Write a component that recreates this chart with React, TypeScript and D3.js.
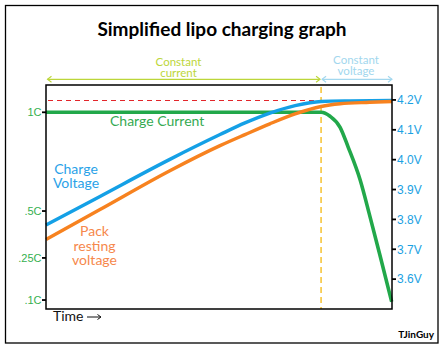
import React from "react";
import * as d3 from "d3";

// ---- data ----
const voltTime = [0, 15.6, 35.8, 50.3, 57.5, 64.7, 72, 79.5, 87.9, 100];
const chargeVoltage = [3.781, 3.877, 4.001, 4.084, 4.123, 4.156, 4.181, 4.195, 4.197, 4.198];
const restTime = [0, 15.6, 35.8, 50.3, 57.5, 64.7, 72, 79.5, 85, 93.6, 100];
const restingVoltage = [3.733, 3.833, 3.963, 4.047, 4.084, 4.12, 4.153, 4.178, 4.187, 4.192, 4.195];
const currentTime = [0, 79.5, 82.1, 85, 87.3, 90.8, 93.6, 96.5, 99.9];
const chargeCurrent = [1, 1, 0.98, 0.924, 0.825, 0.657, 0.473, 0.266, 0.094];
const cvStart = 79.5; // time where constant voltage phase starts
const maxVoltage = 4.2;
const voltTicks = [3.6, 3.7, 3.8, 3.9, 4.0, 4.1, 4.2];
const voltTickLabels = ["3.6V", "3.7V", "3.8V", "3.9V", "4.0V", "4.1V", "4.2V"];
const currentTicks = [0.1, 0.25, 0.5, 1];
const currentTickLabels = [".1C", ".25C", ".5C", "1C"];
const currentTickVolt = [3.53, 3.671, 3.828, 4.1586]; // voltage-equivalent height of each current tick
const timeDomain = [0, 100];
const voltDomain = [3.5, 4.25];

const W = 444;
const H = 349;
const plot = { left: 46, top: 85, right: 392, bottom: 309 };

const C_GREEN = "#22a84a";
const C_BLUE = "#14a0e6";
const C_ORANGE = "#f7821f";
const FONT = "Lato, 'Open Sans', sans-serif";
const AX_FONT = "'Liberation Sans', Arial, sans-serif";

export default function App() {
  const x = d3.scaleLinear().domain(timeDomain).range([plot.left, plot.right]);
  const yV = d3.scaleLinear().domain(voltDomain).range([plot.bottom, plot.top]);
  const yC = d3.scaleLinear().domain(currentTicks).range(currentTickVolt.map((v) => yV(v)));

  const lineV = d3
    .line<[number, number]>()
    .x((d) => x(d[0]))
    .y((d) => yV(d[1]))
    .curve(d3.curveMonotoneX);
  const lineC = d3
    .line<[number, number]>()
    .x((d) => x(d[0]))
    .y((d) => yC(d[1]))
    .curve(d3.curveMonotoneX);

  const blue = lineV(voltTime.map((t, i) => [t, chargeVoltage[i]] as [number, number]));
  const orange = lineV(restTime.map((t, i) => [t, restingVoltage[i]] as [number, number]));
  const green = lineC(currentTime.map((t, i) => [t, chargeCurrent[i]] as [number, number]));

  const xcv = x(cvStart);
  const arrowY = 79.3;
  const ccColor = "#bcd63a";
  const cvColor = "#a2d7ee";
  const chevron = (px: number, dir: number) =>
    `M${px + dir * 4},${arrowY - 3} L${px},${arrowY} L${px + dir * 4},${arrowY + 3}`;
  const y42 = Math.round(yV(maxVoltage)) + 0.5;

  return (
    <svg
      width={W}
      height={H}
      style={{ position: "absolute", left: 0, top: 0, background: "#fff" }}
    >
      <rect x={0} y={0} width={W} height={H} fill="#fff" />
      <rect x={5.5} y={5.5} width={432.5} height={337.5} fill="none" stroke="#000" strokeWidth={1.3} />
      <text
        x={222}
        y={36}
        textAnchor="middle"
        fontFamily={FONT}
        fontWeight={700}
        fontSize={19}
        fill="#000"
      >
        Simplified lipo charging graph
      </text>

      {/* phase annotations */}
      <g fontFamily={FONT} fontSize={11.5} textAnchor="middle">
        <text x={178.5} y={65.5} fill={ccColor}>Constant</text>
        <text x={178.5} y={76.5} fill={ccColor}>current</text>
        <text x={356} y={63.5} fill={cvColor}>Constant</text>
        <text x={356} y={74.5} fill={cvColor}>voltage</text>
      </g>
      <line x1={plot.left + 1.5} x2={xcv - 1} y1={arrowY} y2={arrowY} stroke={ccColor} strokeWidth={1.2} />
      <path d={chevron(plot.left + 1.5, 1)} fill="none" stroke={ccColor} strokeWidth={1.1} />
      <path d={chevron(xcv - 1, -1)} fill="none" stroke={ccColor} strokeWidth={1.1} />
      <line x1={xcv + 1} x2={plot.right} y1={arrowY} y2={arrowY} stroke={cvColor} strokeWidth={1.2} />
      <path d={chevron(xcv + 1, 1)} fill="none" stroke={cvColor} strokeWidth={1.1} />
      <path d={chevron(plot.right, -1)} fill="none" stroke={cvColor} strokeWidth={1.1} />

      {/* reference lines */}
      <line
        x1={plot.left + 2}
        x2={plot.right - 2}
        y1={y42}
        y2={y42}
        stroke="#e3262b"
        strokeWidth={1}
        strokeDasharray="5,4"
        shapeRendering="crispEdges"
      />
      <line
        x1={xcv}
        x2={xcv}
        y1={plot.top + 2}
        y2={plot.bottom}
        stroke="#f5bd22"
        strokeWidth={1.4}
        strokeDasharray="6,4"
      />

      {/* curves */}
      <path d={green || ""} fill="none" stroke={C_GREEN} strokeWidth={3.6} />
      <path d={blue || ""} fill="none" stroke={C_BLUE} strokeWidth={3.4} />
      <path d={orange || ""} fill="none" stroke={C_ORANGE} strokeWidth={3.4} />

      {/* frame */}
      <rect
        x={plot.left}
        y={plot.top}
        width={plot.right - plot.left}
        height={plot.bottom - plot.top}
        fill="none"
        stroke="#000"
        strokeWidth={1.5}
      />

      {/* left axis: current */}
      {currentTicks.map((c, i) => (
        <g key={"c" + i}>
          <line x1={plot.left - 4} x2={plot.left} y1={yC(c)} y2={yC(c)} stroke="#000" strokeWidth={1.8} />
          <text
            x={plot.left - 4.5}
            y={yC(c)}
            dy="0.35em"
            textAnchor="end"
            fontFamily={AX_FONT}
            fontSize={11}
            fill="#35b04f"
          >
            {currentTickLabels[i]}
          </text>
        </g>
      ))}

      {/* right axis: voltage */}
      {voltTicks.map((v, i) => (
        <g key={"v" + i}>
          <line x1={plot.right} x2={plot.right + 4} y1={yV(v)} y2={yV(v)} stroke="#000" strokeWidth={1.8} />
          <text
            x={plot.right + 5}
            y={yV(v)}
            dy="0.36em"
            fontFamily={AX_FONT}
            fontSize={12}
            fill="#1ba1e2"
          >
            {voltTickLabels[i]}
          </text>
        </g>
      ))}

      {/* series labels */}
      <g fontFamily={FONT} fontSize={14}>
        <text x={110} y={126} fill="#35aa52">Charge Current</text>
        <text x={76} y={173.5} textAnchor="middle" fill="#2aa2e8">Charge</text>
        <text x={76} y={188} textAnchor="middle" fill="#2aa2e8">Voltage</text>
        <text x={94.5} y={236} textAnchor="middle" fill="#f6884c">Pack</text>
        <text x={94.5} y={250.5} textAnchor="middle" fill="#f6884c">resting</text>
        <text x={94.5} y={265} textAnchor="middle" fill="#f6884c">voltage</text>
      </g>

      {/* time axis label */}
      <text x={53} y={321} fontFamily={FONT} fontSize={14} fill="#111">Time</text>
      <line x1={87} x2={100.5} y1={317} y2={317} stroke="#111" strokeWidth={1} />
      <path d="M97.5,314.5 L101,317 L97.5,319.5" fill="none" stroke="#111" strokeWidth={1} />

      <text
        x={434}
        y={337.5}
        textAnchor="end"
        fontFamily={FONT}
        fontWeight={700}
        fontSize={10}
        fill="#000"
      >
        TJinGuy
      </text>
    </svg>
  );
}
